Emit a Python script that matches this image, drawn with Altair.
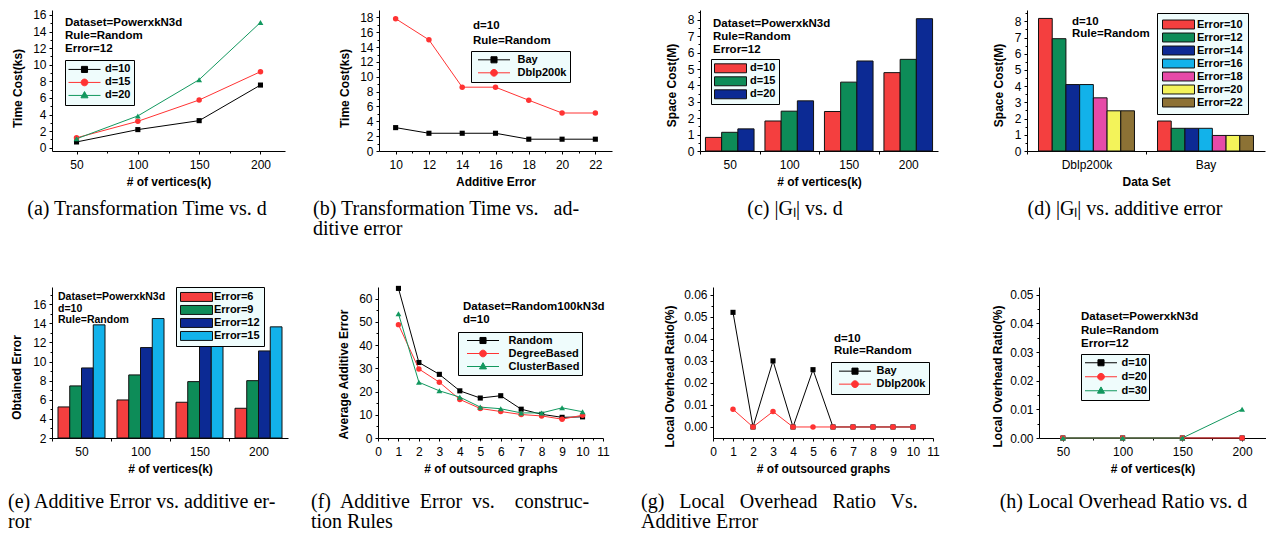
import altair as alt
import pandas as pd

FONT = "Liberation Sans"
SERIF = "Liberation Serif"
LEG_BG = "#effcfc"

BLACK = "#000000"
RED = "#ff3333"
GREEN = "#12985f"
BAR_COLORS = ["#f43f3f", "#0d8c58", "#0c2a94", "#12b2ea", "#e64aa8", "#f3f35a", "#8c7235"]

# ---------------- data ----------------
# (a) Transformation time vs d
a_vertices = [50, 100, 150, 200]
a_names = ["d=10", "d=15", "d=20"]
a_d10 = [0.69, 2.18, 3.26, 7.55]
a_d15 = [1.19, 3.18, 5.75, 9.16]
a_d20 = [1.07, 3.83, 8.20, 15.10]
a_notes = ["Dataset=PowerxkN3d", "Rule=Random", "Error=12"]

# (b) Transformation time vs additive error
b_error = [10, 12, 14, 16, 18, 20, 22]
b_names = ["Bay", "Dblp200k"]
b_bay = [3.15, 2.39, 2.39, 2.39, 1.59, 1.59, 1.59]
b_dblp = [17.83, 14.98, 8.60, 8.60, 6.84, 5.12, 5.12]
b_notes = ["d=10", "Rule=Random"]

# (c) |Gl| vs d
c_vertices = ["50", "100", "150", "200"]
c_names = ["d=10", "d=15", "d=20"]
c_d10 = [0.83, 1.83, 2.41, 4.78]
c_d15 = [1.14, 2.43, 4.20, 5.59]
c_d20 = [1.35, 3.06, 5.49, 8.07]
c_notes = ["Dataset=PowerxkN3d", "Rule=Random", "Error=12"]

# (d) |Gl| vs additive error
d_sets = ["Dblp200k", "Bay"]
d_names = ["Error=10", "Error=12", "Error=14", "Error=16", "Error=18", "Error=20", "Error=22"]
d_dblp = [8.18, 6.93, 4.10, 4.10, 3.28, 2.48, 2.48]
d_bay = [1.85, 1.40, 1.40, 1.40, 0.96, 0.96, 0.96]
d_notes = ["d=10", "Rule=Random"]

# (e) Additive error vs additive error
e_vertices = ["50", "100", "150", "200"]
e_names = ["Error=6", "Error=9", "Error=12", "Error=15"]
e_err6 = [5.25, 5.98, 5.74, 5.11]
e_err9 = [7.45, 8.60, 7.90, 8.00]
e_err12 = [9.33, 11.46, 11.60, 11.11]
e_err15 = [13.84, 14.50, 11.60, 13.63]
e_notes = ["Dataset=PowerxkN3d", "d=10", "Rule=Random"]

# (f) Additive error vs construction rules
f_graphs = [1, 2, 3, 4, 5, 6, 7, 8, 9, 10]
f_names = ["Random", "DegreeBased", "ClusterBased"]
f_random = [64.4, 32.5, 27.4, 20.3, 17.2, 18.2, 12.4, 10.2, 8.9, 9.1]
f_degree = [48.8, 29.7, 24.0, 16.6, 12.7, 11.4, 10.1, 9.5, 8.1, 9.8]
f_cluster = [53.5, 24.0, 20.3, 17.6, 13.3, 12.6, 10.8, 10.8, 13.0, 11.3]
f_notes = ["Dataset=Random100kN3d", "d=10"]

# (g) Local overhead ratio vs additive error
g_graphs = [1, 2, 3, 4, 5, 6, 7, 8, 9, 10]
g_names = ["Bay", "Dblp200k"]
g_bay = [0.052, 0.0, 0.030, 0.0, 0.026, 0.0, 0.0, 0.0, 0.0, 0.0]
g_dblp = [0.008, 0.0, 0.007, 0.0, 0.0, 0.0, 0.0, 0.0, 0.0, 0.0]
g_notes = ["d=10", "Rule=Random"]

# (h) Local overhead ratio vs d
h_vertices = [50, 100, 150, 200]
h_names = ["d=10", "d=20", "d=30"]
h_d10 = [0.0, 0.0, 0.0, 0.0]
h_d20 = [0.0, 0.0, 0.0, 0.0]
h_d30 = [0.0, 0.0, 0.0, 0.010]
h_notes = ["Dataset=PowerxkN3d", "Rule=Random", "Error=12"]

captions = {
    "a": ["(a) Transformation Time vs. d"],
    "b": ["(b) Transformation Time vs.\u00a0\u00a0 ad-", "ditive error"],
    "c": ["(c) |G\u2097| vs. d"],
    "d": ["(d) |G\u2097| vs. additive error"],
    "e": ["(e) Additive Error vs. additive er-", "ror"],
    "f": ["(f)\u00a0 Additive\u00a0 Error\u00a0 vs.\u00a0\u00a0\u00a0 construc-", "tion Rules"],
    "g": ["(g)\u00a0\u00a0 Local\u00a0\u00a0 Overhead\u00a0\u00a0 Ratio\u00a0\u00a0 Vs.", "Additive Error"],
    "h": ["(h) Local Overhead Ratio vs. d"],
}

ONE = pd.DataFrame({"k": [0]})

LINE_SQ = "M-1,0H1M-0.19,-0.19H0.19V0.19H-0.19Z"
LINE_CI = "M-1,0H1M-0.21,0A0.21,0.21,0,1,1,0.21,0A0.21,0.21,0,1,1,-0.21,0Z"
LINE_TR = "M-1,0H1M0,-0.24L0.22,0.15L-0.22,0.15Z"
BAR_RECT = "M-1,-0.28H1V0.28H-1Z"

INDEP = dict(color="independent", stroke="independent", shape="independent", xOffset="independent")


def long_df(xs, names, vals):
    rows = []
    for n, vs in zip(names, vals):
        for x, v in zip(xs, vs):
            rows.append({"x": x, "y": v, "s": n})
    return pd.DataFrame(rows)


def midpoints(major, dom):
    step = major[1] - major[0]
    pts = [round(m + step / 2, 6) for m in [major[0] - step] + list(major)]
    return [p for p in pts if dom[0] < p < dom[1]]


def y_axis(title, values, tx, ty, fmt=None):
    kw = dict(title=title, values=values, titleX=tx, titleY=ty, titleAngle=270, orient="left",
              titleAlign="center", titleBaseline="middle", tickSize=3, labelPadding=3)
    if fmt:
        kw["format"] = fmt
    return alt.Axis(**kw)


def x_axis(title, values=None, half_step=None):
    kw = dict(title=title, titleY=30, titleBaseline="middle", labelAngle=0, orient="bottom",
              tickSize=3, labelPadding=5)
    if half_step is not None:
        kw.update(tickOffset=-half_step, labelOffset=half_step)
    else:
        kw.update(values=values)
    return alt.Axis(**kw)


def minor_axis(values, orient):
    return alt.Axis(values=values, orient=orient, labels=False, domain=False, title=None,
                    tickSize=2, grid=False)


def text_layer(lines, x, y, lh, size=11.5, weight="bold", font=FONT, align="left"):
    return alt.Chart(ONE).mark_text(
        align=align, baseline="alphabetic", font=font, fontSize=size,
        fontWeight=weight, lineHeight=lh, color="black"
    ).encode(x=alt.value(x), y=alt.value(y), text=alt.value(lines))


def caption_layer(lines, x, y, align="left"):
    return text_layer(lines, x, y, 20, size=20, weight="normal", font=SERIF, align=align)


def mk_legend(x, y, pad, pitch, so, lo, symtype=None, extra_space=0):
    kw = dict(title=None, orient="none", direction="vertical", legendX=x, legendY=y,
              padding=pad, clipHeight=pitch, rowPadding=0, symbolOffset=so, labelOffset=lo,
              symbolSize=1024, symbolStrokeWidth=1, symbolOpacity=1,
              fillColor=LEG_BG, strokeColor="black", labelFont=FONT, labelFontSize=11,
              labelFontWeight="bold", labelColor="black", cornerRadius=0, labelLimit=300)
    if symtype:
        kw["symbolType"] = symtype
        kw["symbolStrokeColor"] = "#111111"
    if extra_space:
        kw["labelExpr"] = "datum.label + '" + "\u00a0" * extra_space + "'"
    return alt.Legend(**kw)


def line_panel(xs, names, vals, colors, shapes, msizes, paths, xdom, xvals, xtitle,
               ydom, yvals, ytitle, ytx, yty, legend, extra, w, h, yfmt=None):
    df = long_df(xs, names, vals)
    xs_ = alt.Scale(domain=xdom, nice=False, zero=False)
    ys_ = alt.Scale(domain=ydom, nice=False, zero=False)
    X = alt.X("x:Q", scale=xs_, axis=x_axis(xtitle, xvals))
    Y = alt.Y("y:Q", scale=ys_, axis=y_axis(ytitle, yvals, ytx, yty, yfmt))
    Xn = alt.X("x:Q", scale=xs_, axis=None)
    Yn = alt.Y("y:Q", scale=ys_, axis=None)
    layers = []
    first = True
    for n, col, shp, ms in zip(names, colors, shapes, msizes):
        sub = df[df["s"] == n]
        layers.append(alt.Chart(sub).mark_line(color=col, strokeWidth=1).encode(
            x=X if first else Xn, y=Y if first else Yn))
        first = False
        layers.append(alt.Chart(sub).mark_point(color=col, fill=col, filled=True, opacity=1,
                                                shape=shp, size=ms).encode(x=Xn, y=Yn))
    sc = alt.Scale(domain=names, range=colors)
    layers.append(alt.Chart(df).mark_point(opacity=0, filled=True).encode(
        x=Xn, y=Yn,
        color=alt.Color("s:N", scale=sc, legend=legend),
        stroke=alt.Stroke("s:N", scale=sc, legend=legend),
        shape=alt.Shape("s:N", scale=alt.Scale(domain=names, range=paths), legend=legend),
    ))
    layers.append(alt.Chart(df).mark_point(opacity=0, size=1).encode(
        x=alt.X("x:Q", scale=xs_, axis=minor_axis(midpoints(xvals, xdom), "bottom")),
        y=alt.Y("y:Q", scale=ys_, axis=minor_axis(midpoints(yvals, ydom), "left")),
    ))
    layers += extra
    return alt.layer(*layers).resolve_axis(x="independent", y="independent").properties(width=w, height=h)


def bar_panel(cats, names, vals_by_series, colors, po, xtitle, ydom, yvals, ytitle, ytx, yty,
              legend, extra, w, h, ybase=None):
    rows = []
    for n, vs in zip(names, vals_by_series):
        for c, v in zip(cats, vs):
            rows.append({"x": c, "s": n, "y": v})
    df = pd.DataFrame(rows)
    half = w / len(cats) / 2.0
    ys_ = alt.Scale(domain=ydom, nice=False, zero=False)
    enc = dict(
        x=alt.X("x:N", sort=cats, scale=alt.Scale(domain=cats, paddingInner=0, paddingOuter=0),
                axis=x_axis(xtitle, half_step=half)),
        xOffset=alt.XOffset("s:N", sort=names,
                            scale=alt.Scale(domain=names, paddingInner=0, paddingOuter=po)),
        y=alt.Y("y:Q", scale=ys_, axis=y_axis(ytitle, yvals, ytx, yty)),
        color=alt.Color("s:N", scale=alt.Scale(domain=names, range=colors), legend=legend),
    )
    if ybase is not None:
        enc["y2"] = alt.datum(ybase)
    bars = alt.Chart(df).mark_bar(stroke="#111111", strokeWidth=1, opacity=1).encode(**enc)
    minor = alt.Chart(df).mark_point(opacity=0, size=1).encode(
        y=alt.Y("y:Q", scale=ys_, axis=minor_axis(midpoints(yvals, ydom), "left")))
    return alt.layer(bars, minor, *extra).resolve_axis(y="independent").properties(width=w, height=h)


H1, H2 = 141, 151

# ---- row 1 ----
pa = line_panel(
    a_vertices, a_names, [a_d10, a_d15, a_d20], [BLACK, RED, GREEN],
    ["square", "circle", "triangle-up"], [26, 30, 34], [LINE_SQ, LINE_CI, LINE_TR],
    [30, 220], [50, 100, 150, 200], "# of vertices(k)",
    [-0.4, 16.6], list(range(0, 17, 2)), "Time Cost(ks)", -35, 78,
    mk_legend(13, 50, 3, 12.85, 0, 4, extra_space=2),
    [text_layer(a_notes, 13, 16, 13), caption_layer(captions["a"], 95, 205, "center")],
    233, H1)

pb = line_panel(
    b_error, b_names, [b_bay, b_dblp], [BLACK, RED],
    ["square", "circle"], [26, 30], [LINE_SQ, LINE_CI],
    [9, 23], b_error, "Additive Error",
    [0, 19], list(range(0, 19, 2)), "Time Cost(ks)", -35, 78,
    mk_legend(92, 41, 3, 11.6, 3.5, 7, extra_space=8),
    [text_layer(b_notes, 94, 19, 15), caption_layer(captions["b"], -66, 205)],
    233, H1)

pc = bar_panel(
    c_vertices, c_names, [c_d10, c_d15, c_d20], BAR_COLORS[:3], 0.336,
    "# of vertices(k)", [0, 8.6], list(range(0, 9)), "Space Cost(M)", -29, 75,
    mk_legend(11, 49, 3, 12.6, 0, 3, BAR_RECT, extra_space=2),
    [text_layer(c_notes, 13, 17, 12.8), caption_layer(captions["c"], 95, 205, "center")],
    238, H1)

pd_ = bar_panel(
    d_sets, d_names, [[a, b] for a, b in zip(d_dblp, d_bay)], BAR_COLORS, 0.84,
    "Data Set", [0, 8.7], list(range(0, 9)), "Space Cost(M)", -29, 75,
    mk_legend(130, 3, 5, 13, 0, 2, BAR_RECT, extra_space=2),
    [text_layer(d_notes, 45, 15, 12.3), caption_layer(captions["d"], 98, 205, "center")],
    238, H1)

# ---- row 2 ----
pe = bar_panel(
    e_vertices, e_names, [e_err6, e_err9, e_err12, e_err15], BAR_COLORS[:4], 0.51,
    "# of vertices(k)", [2, 17.8], list(range(2, 17, 2)), "Obtained Error", -36, 90,
    mk_legend(124, 0, 4, 11.9, 0, 1, BAR_RECT),
    [text_layer(e_notes, 6, 13, 11.7, size=10.5), caption_layer(captions["e"], -44, 221)],
    236, H2, ybase=2)

pf = line_panel(
    f_graphs, f_names, [f_random, f_degree, f_cluster], [BLACK, RED, GREEN],
    ["square", "circle", "triangle-up"], [26, 30, 34], [LINE_SQ, LINE_CI, LINE_TR],
    [0, 11], list(range(0, 12)), "# of outsourced graphs",
    [0, 65], list(range(0, 61, 10)), "Average Additive Error", -35, 87,
    mk_legend(80, 45, 2, 13, 6.5, 9, extra_space=4),
    [text_layer(f_notes, 85, 23, 13), caption_layer(captions["f"], -67, 221)],
    225, H2)

pg = line_panel(
    g_graphs, g_names, [g_bay, g_dblp], [BLACK, RED],
    ["square", "circle"], [26, 30], [LINE_SQ, LINE_CI],
    [0, 11], list(range(0, 12)), "# of outsourced graphs",
    [-0.005, 0.0635], [0, 0.01, 0.02, 0.03, 0.04, 0.05, 0.06], "Local Overhead Ratio(%)", -44, 89,
    mk_legend(118, 75, 3, 12.3, 4.5, 5),
    [text_layer(g_notes, 121, 55, 12.3), caption_layer(captions["g"], -72, 221)],
    220, H2, yfmt=".2f")

ph = line_panel(
    h_vertices, h_names, [h_d10, h_d20, h_d30], [BLACK, RED, GREEN],
    ["square", "circle", "triangle-up"], [26, 30, 34], [LINE_SQ, LINE_CI, LINE_TR],
    [30, 220], [50, 100, 150, 200], "# of vertices(k)",
    [0, 0.0527], [0, 0.01, 0.02, 0.03, 0.04, 0.05], "Local Overhead Ratio(%)", -41.5, 89,
    mk_legend(42, 67, 2, 13.5, 1.5, 4),
    [text_layer(h_notes, 42, 33, 13.5), caption_layer(captions["h"], 84.5, 221, "center")],
    227, H2, yfmt=".2f")


def spacer(w):
    return alt.Chart(ONE).mark_point(opacity=0, size=1).encode(
        x=alt.value(w / 2), y=alt.value(1)).properties(width=w, height=1)


row1 = alt.hconcat(pa, spacer(94), pb, spacer(88), pc, spacer(89), pd_,
                   spacing=0, bounds="flush").resolve_scale(**INDEP)
row2 = alt.hconcat(pe, spacer(90), pf, spacer(110), pg, spacer(106), ph,
                   spacing=0, bounds="flush").resolve_scale(**INDEP)

chart = alt.vconcat(row1, row2, spacing=277, bounds="flush").resolve_scale(**INDEP).properties(
    padding=0, background="white"
).configure_view(stroke=None).configure_axis(
    labelFont=FONT, labelFontSize=12, labelColor="black",
    titleFont=FONT, titleFontSize=12, titleFontWeight="bold", titleColor="black",
    domainColor="black", domainWidth=1, tickColor="black", tickWidth=1,
    grid=False, labelFlush=False, labelOverlap=False,
)

chart.save("out.html", embed_options={"renderer": "svg", "actions": False})
